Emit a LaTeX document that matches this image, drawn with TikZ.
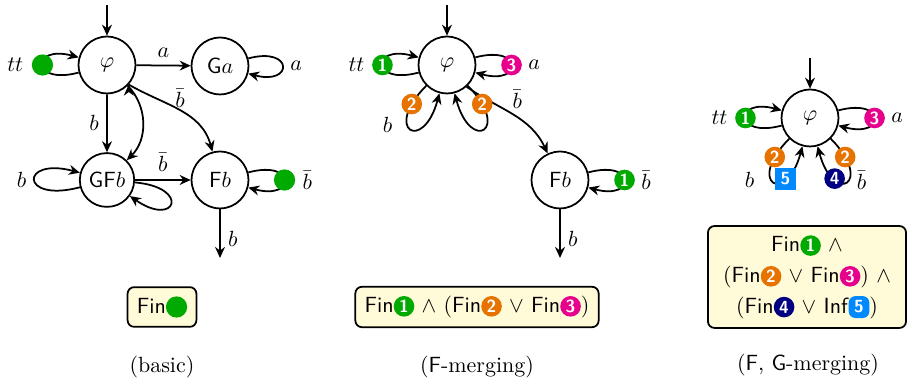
\documentclass[tikz,border=0pt]{standalone}
\usepackage{amsmath, amssymb}
\usepackage{tikz}
\usetikzlibrary{arrows.meta, positioning, shapes.misc}

\definecolor{accgreen}{RGB}{0,170,0}
\definecolor{accorange}{RGB}{230,115,0}
\definecolor{accpink}{RGB}{230,0,140}
\definecolor{accnavy}{RGB}{0,0,128}
\definecolor{accblue}{RGB}{0,136,255}
\definecolor{condfill}{RGB}{255,250,215}

\tikzset{
    acc/.style={circle, fill=#1, text=white, inner sep=0pt, anchor=center, minimum size=3.3mm, font=\sffamily\bfseries\footnotesize},
    accsq/.style={rectangle, fill=#1, text=white, inner sep=0pt, anchor=center, minimum width=3.3mm, minimum height=3.5mm, font=\sffamily\bfseries\footnotesize},
    accdot/.style={circle, fill=accgreen, inner sep=0pt, anchor=center, minimum size=3.4mm}
}
\newcommand{\acc}[2]{\tikz[baseline=-0.65ex]\node[acc=#1]{#2};}
\newcommand{\accsqr}[2]{\tikz[baseline=-0.65ex]\node[accsq=#1]{#2};}
\newcommand{\greendot}{\tikz[baseline=-0.65ex]\node[accdot]{};}
\newcommand{\Fin}{\textsf{Fin}}
\newcommand{\Inf}{\textsf{Inf}}

\begin{document}
\begin{tikzpicture}[thick, >={Stealth[length=5pt, width=4.5pt]},
    state/.style={draw, circle, minimum size=9.1mm, inner sep=0pt},
    wide state/.style={draw, rounded rectangle, minimum height=8.6mm, minimum width=10.7mm, inner xsep=1mm}, 
    cond/.style={draw, rounded corners=3pt, fill=condfill, inner sep=4.2pt},
    lbl/.style={inner sep=1pt}
]
\useasboundingbox (0,0) rectangle (14.528,6.16);

% (basic)
\node[state] (phiA) at (1.712,5.12) {$\varphi$};
\node[state] (GaA) at (3.52,5.104) {\textsf{G}$a$};
\node[wide state] (GFbA) at (1.712,3.28) {\textsf{GF}$b$};
\node[state] (FbA) at (3.52,3.28) {\textsf{F}$b$};
\coordinate (initA) at (1.712,6.08);
\coordinate (outA) at (3.52,2.032);

\draw[->] (initA) -- (phiA);
\draw[->] (phiA) edge[loop left, min distance=8mm] node[accdot] {} node[lbl, left=2.6mm] {$tt$} (phiA)
    (phiA) edge node[above] {$a$} (GaA)
    (phiA) edge node[left] {$b$} (GFbA)
    (phiA) edge[bend left=45] (GFbA)
    (phiA.-42) edge[out=-30, in=105] node[pos=0.5, above=-2pt] {$\bar b$} (FbA)
    (GaA) edge[loop right, min distance=7.5mm] node[right] {$a$} (GaA)
    (GFbA) edge node[above] {$\bar b$} (FbA)
    (GFbA) edge[loop left, min distance=10mm] node[left] {$b$} (GFbA)
    (GFbA) edge[loop, out=-5, in=-35, min distance=9mm] (GFbA)
    (FbA) edge[loop right, min distance=8mm] node[accdot] {} node[lbl, right=2.4mm] {$\bar b$} (FbA);
\draw[->] (FbA) -- node[right, pos=0.6] {$b$} (outA);

\node[cond] (condA) at (2.592,1.248) {\Fin\greendot};
\node (capA) at (2.592,0.288) {(basic)};

% (F-merging)
\node[state] (phiB) at (7.152,5.12) {$\varphi$};
\node[state] (FbB) at (8.96,3.28) {\textsf{F}$b$};
\coordinate (initB) at (7.152,6.08);
\coordinate (outB) at (8.96,2.032);

\draw[->] (initB) -- (phiB);
\draw[->] (phiB.-48) to[out=-35, in=115] node[pos=0.45, above right=-3pt] {$\bar b$} (FbB);
\draw[->] (phiB) edge[loop left, min distance=8mm] node[acc=accgreen] {1} node[lbl, left=2.4mm] {$tt$} (phiB)
    (phiB) edge[loop right, min distance=8mm] node[acc=accpink] {3} node[lbl, right=2.2mm] {$a$} (phiB)
    (phiB) edge[loop, out=225, in=255, min distance=10mm] node[acc=accorange, pos=0.15] {2} node[pos=0.4, left=3pt] {$b$} (phiB)
    (phiB) edge[loop, out=-45, in=-75, min distance=10mm] node[acc=accorange, pos=0.15] {2} (phiB)
    (FbB) edge[loop right, min distance=8mm] node[acc=accgreen] {1} node[lbl, right=2.2mm] {$\bar b$} (FbB);
\draw[->] (FbB) -- node[right, pos=0.6] {$b$} (outB);

\node[cond] (condB) at (7.632,1.248) {\Fin\acc{accgreen}{1} $\land$ (\Fin\acc{accorange}{2} $\lor$ \Fin\acc{accpink}{3})};
\node (capB) at (7.632,0.288) {(\textsf{F}-merging)};

% (F, G-merging)
\node[state] (phiC) at (12.96,4.272) {$\varphi$};
\coordinate (initC) at (12.96,5.232);

\draw[->] (initC) -- (phiC);
\draw[->] (phiC) edge[loop left, min distance=8mm] node[acc=accgreen] {1} node[lbl, left=2.4mm] {$tt$} (phiC)
    (phiC) edge[loop right, min distance=8mm] node[acc=accpink] {3} node[lbl, right=2.2mm] {$a$} (phiC)
    (phiC) edge[loop, out=225, in=255, min distance=10mm] node[acc=accorange, pos=0.15] {2} node[accsq=accblue, pos=0.72] {5} node[pos=0.45, left=4pt] {$b$} (phiC)
    (phiC) edge[loop, out=-45, in=-75, min distance=10mm] node[acc=accorange, pos=0.15] {2} node[acc=accnavy, pos=0.72] {4} node[pos=0.45, right=0pt] {$\bar b$} (phiC);

\node[cond, align=center, minimum width=3.17cm, minimum height=1.6cm] (condC) at (12.912,1.728)
    {\Fin\acc{accgreen}{1} $\land$\\[2pt] (\Fin\acc{accorange}{2} $\lor$ \Fin\acc{accpink}{3}) $\land$\\[2pt] (\Fin\acc{accnavy}{4} $\lor$ \Inf\accsqr{accblue}{5})};
\node (capC) at (12.928,0.32) {(\textsf{F}, \textsf{G}-merging)};

\end{tikzpicture}
\end{document}
